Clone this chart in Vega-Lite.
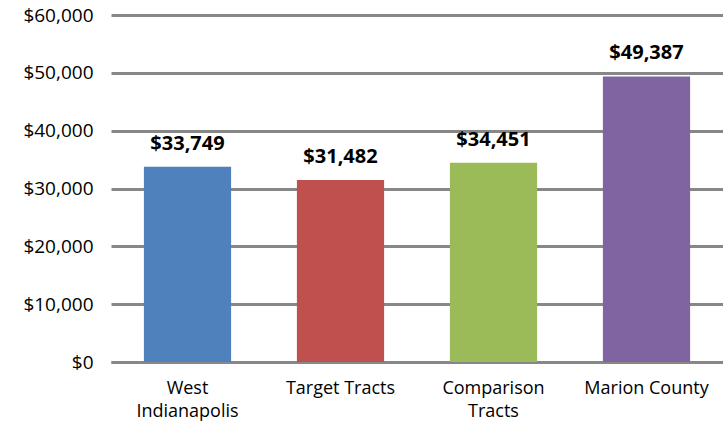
{
  "$schema": "https://vega.github.io/schema/vega-lite/v6.json",
  "width": 612,
  "height": 347,
  "autosize": {"type": "none"},
  "padding": {"left": 111, "top": 15, "right": 0, "bottom": 66},
  "background": "white",
  "config": {"view": {"stroke": null}, "font": "Open Sans"},
  "data": {"values": [
    {"area": "West|Indianapolis", "income": 33749, "label": "$33,749"},
    {"area": "Target Tracts", "income": 31482, "label": "$31,482"},
    {"area": "Comparison|Tracts", "income": 34451, "label": "$34,451"},
    {"area": "Marion County", "income": 49387, "label": "$49,387"}
  ]},
  "encoding": {
    "x": {"field": "area", "type": "nominal", "sort": null,
      "scale": {"paddingInner": 0.43, "paddingOuter": 0.215},
      "axis": {"title": null, "labelAngle": 0, "labelExpr": "split(datum.label, '|')", "labelFontSize": 18, "labelColor": "#000000", "labelFont": "Open Sans", "ticks": false, "domain": true, "domainColor": "#878787", "domainWidth": 3, "labelPadding": 17, "labelLineHeight": 23}},
    "y": {"field": "income", "type": "quantitative",
      "scale": {"domain": [0, 60000]},
      "axis": {"title": null, "values": [0, 10000, 20000, 30000, 40000, 50000, 60000], "format": "$,.0f", "labelFontSize": 19, "labelColor": "#000000", "labelFont": "Open Sans", "ticks": false, "domain": false, "gridColor": "#878787", "gridWidth": 3, "labelPadding": 18}}
  },
  "layer": [
    {"mark": {"type": "bar"},
     "encoding": {"color": {"field": "area", "type": "nominal", "sort": null, "legend": null,
       "scale": {"range": ["#4F81BD", "#C0504D", "#9BBB59", "#8064A2"]}}}},
    {"mark": {"type": "text", "dy": -17, "baseline": "alphabetic", "fontWeight": "bold", "fontSize": 20, "font": "Open Sans", "color": "#000000"},
     "encoding": {"text": {"field": "label"}}}
  ]
}
